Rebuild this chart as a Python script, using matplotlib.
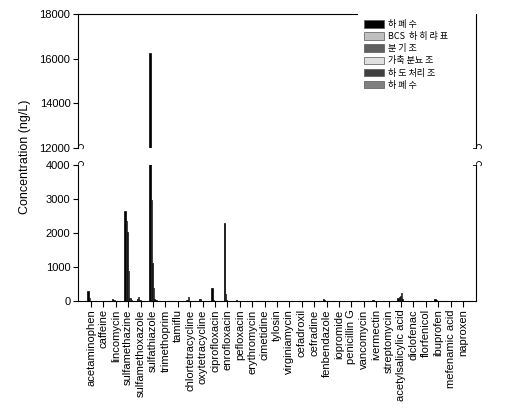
import matplotlib
matplotlib.use('Agg')
import matplotlib.pyplot as plt
import numpy as np
from matplotlib.patches import Patch, Arc
from matplotlib.lines import Line2D

plt.rcParams['font.family'] = ['Liberation Sans', 'Noto Sans CJK KR', 'DejaVu Sans']

compounds = ['acetaminophen', 'caffeine', 'lincomycin', 'sulfamethazine', 'sulfamethoxazole',
             'sulfathiazole', 'trimethoprim', 'tamiflu', 'chlortetracycline', 'oxytetracycline',
             'ciprofloxacin', 'enrofloxacin', 'pefloxacin', 'erythromycin', 'cimetidine',
             'tylosin', 'virginiamycin', 'cefadroxil', 'cefradine', 'fenbendazole',
             'iopromide', 'penicillin G', 'vancomycin', 'ivermectin', 'streptomycin',
             'acetylsalicylic acid', 'diclofenac', 'florfenicol', 'ibuprofen', 'mefenamic acid',
             'naproxen']

series_labels = ['하 폐 수', 'BCS  하 히 랴 표', '분 기 조', '가축 분뇨 조', '하 도 처리 조', '하 폐 수']
series_colors = ['#000000', '#c0c0c0', '#606060', '#e0e0e0', '#404040', '#808080']

#            acet caf linc smz  smx  stz    tmp tam ctc otc cip enr  pef ery cim tyl vir cfx cfr fen iop pen van ive str asa dic flo ibu mef nap
series1 = [300, 0, 70, 2650, 60, 16250, 0, 0, 40, 70, 390, 2300, 20, 0, 0, 0, 0, 0, 0, 50, 0, 0, 0, 30, 0, 100, 0, 0, 60, 0, 0]
series2 = [100, 0, 40, 2350, 130, 2970, 0, 0, 130, 60, 30, 200, 0, 0, 0, 0, 0, 0, 0, 15, 0, 0, 0, 0, 0, 130, 0, 0, 20, 0, 0]
series3 = [0, 0, 0, 2030, 30, 1120, 0, 0, 0, 0, 0, 40, 0, 0, 0, 0, 0, 0, 0, 0, 0, 0, 0, 0, 0, 150, 0, 0, 0, 0, 0]
series4 = [0, 0, 0, 880, 0, 380, 0, 0, 0, 0, 0, 0, 0, 0, 0, 0, 0, 0, 0, 0, 0, 0, 0, 0, 0, 230, 0, 0, 0, 0, 0]
series5 = [0, 0, 0, 80, 0, 50, 0, 0, 0, 0, 0, 0, 0, 0, 0, 0, 0, 0, 0, 0, 0, 0, 0, 0, 0, 60, 0, 0, 0, 0, 0]
series6 = [0, 0, 0, 30, 0, 20, 0, 0, 0, 0, 0, 0, 0, 0, 0, 0, 0, 0, 0, 0, 0, 0, 0, 0, 0, 0, 0, 0, 0, 0, 0]
all_series = [series1, series2, series3, series4, series5, series6]

W, H = 514, 411
fig = plt.figure(figsize=(W / 100, H / 100), dpi=100)

def fx(px):
    return px / W

def fy(py):
    return 1 - py / H

left, right = 78, 476
ax_top = fig.add_axes([fx(left), fy(148), fx(right - left), fy(14) - fy(148)])
ax_bot = fig.add_axes([fx(left), fy(301), fx(right - left), fy(165) - fy(301)])

x = np.arange(len(compounds))
bw = 0.1
for i, (vals, col) in enumerate(zip(all_series, series_colors)):
    off = (i - 3) * bw
    for ax in (ax_top, ax_bot):
        ax.bar(x + off, vals, width=bw, color=col, edgecolor='black', linewidth=0.5, align='edge')

for ax in (ax_top, ax_bot):
    ax.set_xlim(-1.05, 31.05)
    for s in ax.spines.values():
        s.set_linewidth(0.8)
    ax.tick_params(axis='y', labelsize=8, length=3.5, width=0.8, direction='out', pad=2)

ax_top.set_ylim(12000, 18000)
ax_top.set_yticks([12000, 14000, 16000, 18000])
ax_top.spines['bottom'].set_visible(False)
ax_top.spines['top'].set_visible(False)
ax_top.add_line(Line2D([0, (357 - left) / (right - left)], [1, 1], transform=ax_top.transAxes,
                       color='black', linewidth=0.8, clip_on=False))
ax_top.set_xticks([])

ax_bot.set_ylim(0, 4000)
ax_bot.set_yticks([0, 1000, 2000, 3000, 4000])
ax_bot.spines['top'].set_visible(False)
ax_bot.set_xticks(x)
ax_bot.set_xticklabels(compounds, rotation=90, fontsize=8)
ax_bot.tick_params(axis='x', length=4, width=0.8, direction='out', pad=2)

fig.text(fx(25), fy(157), 'Concentration (ng/L)', rotation=90, ha='center', va='center', fontsize=9)

# axis break marks
def brk(xp, yp):
    fig.add_artist(Line2D([fx(xp - 3), fx(xp)], [fy(yp), fy(yp)], transform=fig.transFigure,
                          color='black', linewidth=0.6))
    fig.add_artist(Arc((fx(xp + 3), fy(yp - 1)), fx(5), 5 / H, theta1=-60, theta2=200,
                       transform=fig.transFigure, color='black', linewidth=0.6))

for xp in (left, right):
    brk(xp, 148)
    brk(xp, 165)

handles = [Patch(facecolor=c, edgecolor='#555555', linewidth=0.5) for c in series_colors]
leg = fig.legend(handles, series_labels, loc='upper left', bbox_to_anchor=(fx(364), fy(20)),
                 bbox_transform=fig.transFigure, frameon=False, fontsize=6.5,
                 prop={'family': ['Noto Sans CJK KR', 'Liberation Sans'], 'size': 6.5},
                 handlelength=2.2, handleheight=0.9, labelspacing=0.35, handletextpad=0.5,
                 borderpad=0, borderaxespad=0)

fig.savefig('out.png', dpi=100)
